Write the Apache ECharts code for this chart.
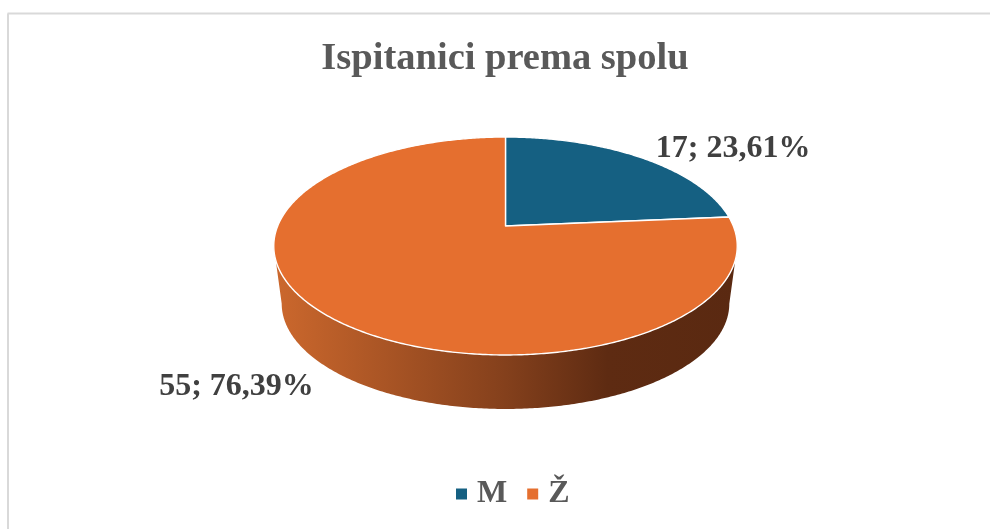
<!DOCTYPE html>
<html>
<head>
<meta charset="utf-8">
<style>html,body{margin:0;padding:0;background:#fff}#c{width:990px;height:529px}</style>
<script src="https://cdn.jsdelivr.net/npm/echarts@6/dist/echarts.min.js"></script>
</head>
<body>
<div id="c"></div>
<script>
const titleText = 'Ispitanici prema spolu';
const categories = ['M', 'Ž'];
const values = [17, 55];
const colors = ['#156082', '#E56F2F'];
const sideStops = [['#8A9BA3', '#0B3042'], ['#CC682D', '#5A2911']];
const labelOffsets = [[92, -9], [-91, 71]];

const FONT = '"Liberation Serif", "Times New Roman", serif';
const total = values.reduce((a, b) => a + b, 0);
const TOP = { cx: 505.5, cy: 226, A: 227.8, B: 105.3, k: -0.1835 };
const BOTTOM = { cx: 505.5, cy: 284.3, A: 220, B: 101.8, k: -0.1835 };

function project(face, theta) {
  const u = Math.sin(theta), v = -Math.cos(theta);
  const d = 1 + face.k * v;
  return [face.cx + face.A * u / d, face.cy + face.B * v / d];
}
function arc(face, from, to) {
  const n = Math.max(2, Math.ceil(Math.abs(to - from) / 0.01));
  const pts = [];
  for (let i = 0; i <= n; i++) pts.push(project(face, from + (to - from) * i / n));
  return pts;
}
const visFrom = Math.acos(TOP.k);
const visTo = 2 * Math.PI - visFrom;

function makeRender(idx) {
  return function (params, api) {
    const val = api.value(0);
    const before = values.slice(0, idx).reduce((a, b) => a + b, 0);
    const a0 = before / total * 2 * Math.PI;
    const a1 = a0 + val / total * 2 * Math.PI;
    const children = [];
    const s0 = Math.max(a0, visFrom), s1 = Math.min(a1, visTo);
    if (s1 > s0) {
      children.push({
        type: 'polygon',
        z2: 1,
        shape: { points: arc(TOP, s0, s1).concat(arc(BOTTOM, s1, s0)) },
        style: {
          fill: new echarts.graphic.LinearGradient(0, 0, 1, 0, [
            { offset: 0, color: sideStops[idx][0] },
            { offset: 0.5, color: '#84401C' },
            { offset: 0.72, color: '#5E2B12' },
            { offset: 1, color: sideStops[idx][1] }
          ]),
          stroke: null
        }
      });
    }
    children.push({
      type: 'polygon',
      z2: 2,
      shape: { points: [[TOP.cx, TOP.cy]].concat(arc(TOP, a0, a1)) },
      style: { fill: colors[idx], stroke: '#FFFFFF', lineWidth: 1.4, lineJoin: 'round' }
    });
    const edge = project(TOP, (a0 + a1) / 2);
    children.push({
      type: 'text',
      z2: 3,
      x: edge[0] + labelOffsets[idx][0],
      y: edge[1] + labelOffsets[idx][1],
      style: {
        text: val + '; ' + (val / total * 100).toFixed(2).replace('.', ',') + '%',
        font: 'bold 32px ' + FONT,
        fill: '#404040',
        align: 'center',
        verticalAlign: 'middle'
      }
    });
    return { type: 'group', children };
  };
}

const chart = echarts.init(document.getElementById('c'), null, { renderer: 'canvas' });
chart.setOption({
  animation: false,
  backgroundColor: '#FFFFFF',
  title: {
    text: titleText,
    left: 500,
    top: 35,
    textAlign: 'center',
    textStyle: { fontFamily: FONT, fontWeight: 'bold', fontSize: 38.5, color: '#595959' }
  },
  legend: {
    left: 456,
    top: 478,
    padding: 0,
    itemWidth: 11,
    itemHeight: 11,
    itemGap: 20,
    icon: 'rect',
    selectedMode: false,
    data: categories,
    textStyle: { fontFamily: FONT, fontWeight: 'bold', fontSize: 32, color: '#595959', padding: [0, 0, 0, 5] }
  },
  graphic: [
    { type: 'line', silent: true, shape: { x1: 7.5, y1: 13.5, x2: 990, y2: 13.5 }, style: { stroke: '#D9D9D9', lineWidth: 2 } },
    { type: 'line', silent: true, shape: { x1: 8, y1: 13.5, x2: 8, y2: 529 }, style: { stroke: '#D9D9D9', lineWidth: 2 } }
  ],
  series: categories.map((name, i) => ({
    type: 'custom',
    name,
    coordinateSystem: 'none',
    silent: true,
    itemStyle: { color: colors[i] },
    renderItem: makeRender(i),
    data: [[values[i]]]
  }))
});
</script>
</body>
</html>
